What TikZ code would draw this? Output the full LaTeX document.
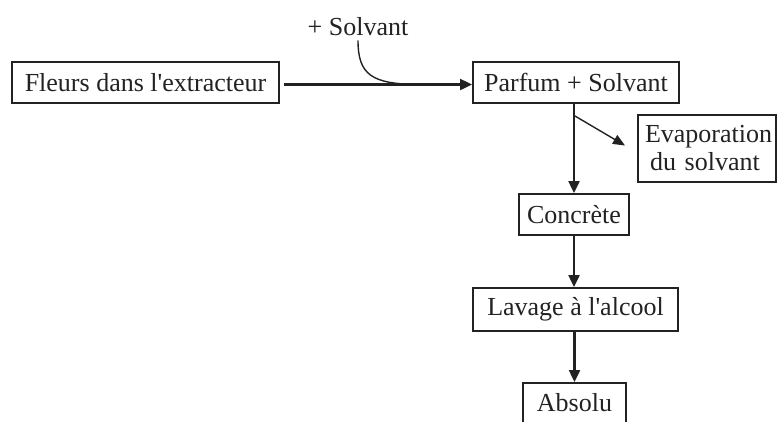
\documentclass[tikz,border=0pt]{standalone}
\usepackage{fontspec}
\setmainfont{Liberation Serif}
\usetikzlibrary{arrows.meta}
\definecolor{ink}{HTML}{222222}
\newcommand{\apos}{\textquotesingle}
\begin{document}
\begin{tikzpicture}[x=1pt,y=-1pt,
  box/.style={draw=ink,line width=2pt,inner sep=0pt,minimum height=41pt,font=\fontsize{26}{28}\selectfont,text=ink},
  flow/.style={draw=ink,line width=2.4pt,-{Triangle[length=12pt,width=11pt]}},
  thin/.style={draw=ink,line width=1.4pt}]
\useasboundingbox (0,0) rectangle (777,421);
\clip (0,0) rectangle (777,421);
\node[box,minimum width=267pt] (fleurs) at (145.5,82.5) {Fleurs dans l\apos extracteur};
\node[box,minimum width=206pt] (parfum) at (576,82.5) {Parfum + Solvant};
\node[font=\fontsize{26}{28}\selectfont,text=ink,inner sep=0pt] (solv) at (358,27) {+ Solvant};
\node[box,text width=124pt,inner xsep=7pt,minimum height=67pt,align=left,font=\fontsize{26}{28}\selectfont] (evap) at (707,148.5) {Evaporation\\\hspace*{5pt}du solvant};
\node[box,minimum width=110pt] (conc) at (574,214.5) {Concrète};
\node[box,minimum width=205pt,minimum height=43pt] (lav) at (575.5,309.5) {Lavage à l\apos alcool};
\node[box,minimum width=103pt,minimum height=40pt] (abs) at (574.5,403) {Absolu};
\coordinate (join) at (418,84.5);
\coordinate (src) at (284,84.5);
\coordinate (dst) at (parfum.west |- src);
\draw[flow] (src) -- (dst);
\draw[thin] ([yshift=-4pt]solv.south) .. controls (358,75) and (372,84) .. (join);
\coordinate (split) at (575,116);
\draw[flow] (parfum.south -| conc.north) -- (conc.north);
\draw[thin,-{Triangle[length=12pt,width=10pt]}] (split) -- ([xshift=-12pt,yshift=3pt]evap.west);
\draw[flow] (conc.south) -- (conc.south |- lav.north);
\draw[flow] (lav.south -| abs.north) -- (abs.north);
\end{tikzpicture}
\end{document}
